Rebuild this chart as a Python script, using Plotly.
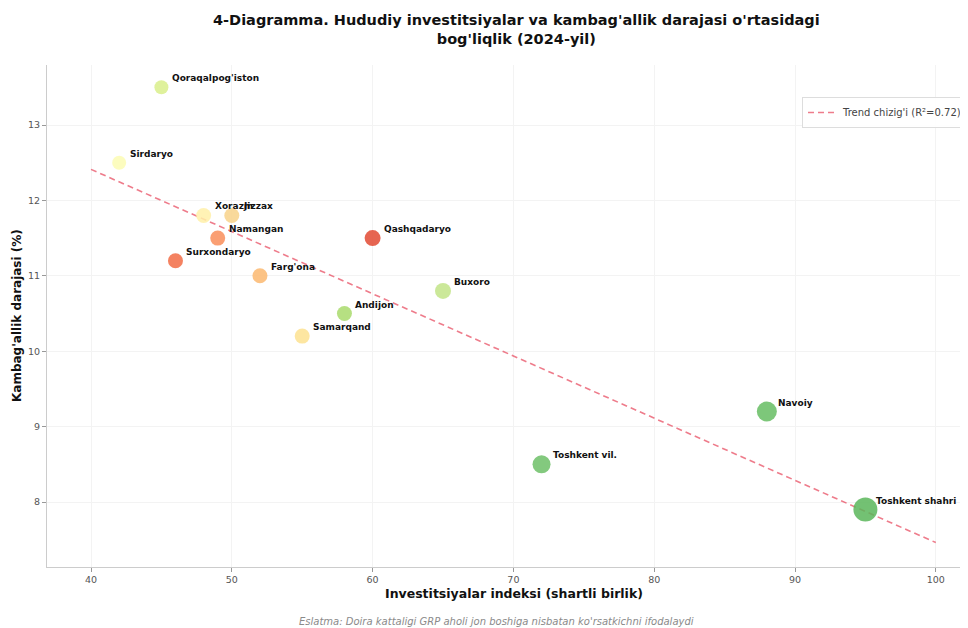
import numpy as np
import plotly.graph_objects as go

# ---- data ----
regions = ["Qoraqalpog'iston", "Sirdaryo", "Xorazm", "Jizzax", "Namangan", "Surxondaryo",
           "Farg'ona", "Qashqadaryo", "Buxoro", "Andijon", "Samarqand", "Navoiy",
           "Toshkent vil.", "Toshkent shahri"]
investment = [45, 42, 48, 50, 49, 46, 52, 60, 65, 58, 55, 88, 72, 95]
poverty = [13.5, 12.5, 11.8, 11.8, 11.5, 11.2, 11.0, 11.5, 10.8, 10.5, 10.2, 9.2, 8.5, 7.9]
x_ticks = [40, 50, 60, 70, 80, 90, 100]
y_ticks = [8, 9, 10, 11, 12, 13]
trend_label = "Trend chizig'i (R²=0.72)"

# ---- styles ----
colors = ["#d9ef8b", "#fcfcb4", "#fff0a8", "#f8d28a", "#f98e5a", "#f26c45",
          "#fbb870", "#e24a33", "#c2e487", "#a9da6c", "#fde290", "#66bd63",
          "#6dc067", "#5ab65a"]
sizes = [14, 14, 15, 15, 15, 15, 15, 16, 16, 15, 15, 20, 18, 24]

fig = go.Figure()

# trend line from least squares fit
coef = np.polyfit(investment, poverty, 1)
tx = np.array([40, 100])
fig.add_trace(go.Scatter(
    x=tx, y=np.polyval(coef, tx), mode="lines", name=trend_label,
    line=dict(color="rgba(232,80,100,0.75)", width=1.6, dash="6px,4px"),
    hoverinfo="skip"))

fig.add_trace(go.Scatter(
    x=investment, y=poverty, mode="markers", showlegend=False,
    text=regions, hovertemplate="%{text}<br>%{x}, %{y}<extra></extra>",
    marker=dict(color=colors, size=sizes, opacity=0.85, line=dict(width=0))))

for r, xv, yv in zip(regions, investment, poverty):
    fig.add_annotation(x=xv, y=yv, text=f"<b>{r}</b>", showarrow=False,
                       xanchor="left", yanchor="middle", xshift=9, yshift=9,
                       font=dict(family="DejaVu Sans", size=9, color="#111111"))

OFF = 8  # page body margin
W, H = 968 - OFF, 628 - OFF
PL, PR, PT, PB = 47 - OFF, 968 - OFF, 65 - OFF, 567 - OFF
PW, PH = PR - PL, PB - PT
xr = [40 - (91 - 47) / 14.08, 40 + (968 - 91) / 14.08]
yr = [8 - (567 - 502) / 75.4, 13 + (125 - 65) / 75.4]


def px(xp):
    return (xp - OFF - PL) / PW


def py(yp):
    return (PB - (yp - OFF)) / PH


fig.add_annotation(xref="paper", yref="paper", x=px(516), y=py(29),
                   text="<b>4-Diagramma. Hududiy investitsiyalar va kambag'allik darajasi o'rtasidagi<br>bog'liqlik (2024-yil)</b>",
                   showarrow=False, xanchor="center", yanchor="middle",
                   font=dict(family="DejaVu Sans", size=14.5, color="#111111"))
fig.add_annotation(xref="paper", yref="paper", x=px(514), y=py(593),
                   text="<b>Investitsiyalar indeksi (shartli birlik)</b>",
                   showarrow=False, xanchor="center", yanchor="middle",
                   font=dict(family="DejaVu Sans", size=12.5, color="#111111"))
fig.add_annotation(xref="paper", yref="paper", x=px(17), y=py(316), textangle=-90,
                   text="<b>Kambag'allik darajasi (%)</b>",
                   showarrow=False, xanchor="center", yanchor="middle",
                   font=dict(family="DejaVu Sans", size=12, color="#111111"))
fig.add_annotation(xref="paper", yref="paper", x=px(496), y=py(621),
                   text="<i>Eslatma: Doira kattaligi GRP aholi jon boshiga nisbatan ko'rsatkichni ifodalaydi</i>",
                   showarrow=False, xanchor="center", yanchor="middle",
                   font=dict(family="DejaVu Sans", size=10, color="#8a8a8a"))

fig.update_layout(
    width=W, height=H,
    margin=dict(l=PL, r=W - PR, t=PT, b=H - PB, pad=0),
    paper_bgcolor="white", plot_bgcolor="white",
    font=dict(family="DejaVu Sans", size=9, color="#555555"),
    legend=dict(x=1, y=py(97), xanchor="right", yanchor="top",
                bgcolor="rgba(255,255,255,0.9)", bordercolor="#dddddd", borderwidth=1,
                font=dict(family="DejaVu Sans", size=10, color="#444444")),
    xaxis=dict(range=xr, tickvals=x_ticks, showgrid=True, gridcolor="#f3f3f3",
               zeroline=False, showline=True, linecolor="#cccccc", linewidth=1,
               ticks="outside", ticklen=4, tickcolor="#999999", automargin=False,
               tickfont=dict(size=9.5, color="#555555")),
    yaxis=dict(range=yr, tickvals=y_ticks, showgrid=True, gridcolor="#f3f3f3",
               zeroline=False, showline=True, linecolor="#cccccc", linewidth=1,
               ticks="outside", ticklen=4, tickcolor="#999999", automargin=False,
               tickfont=dict(size=9.5, color="#555555")),
)

fig.write_html("out.html")
